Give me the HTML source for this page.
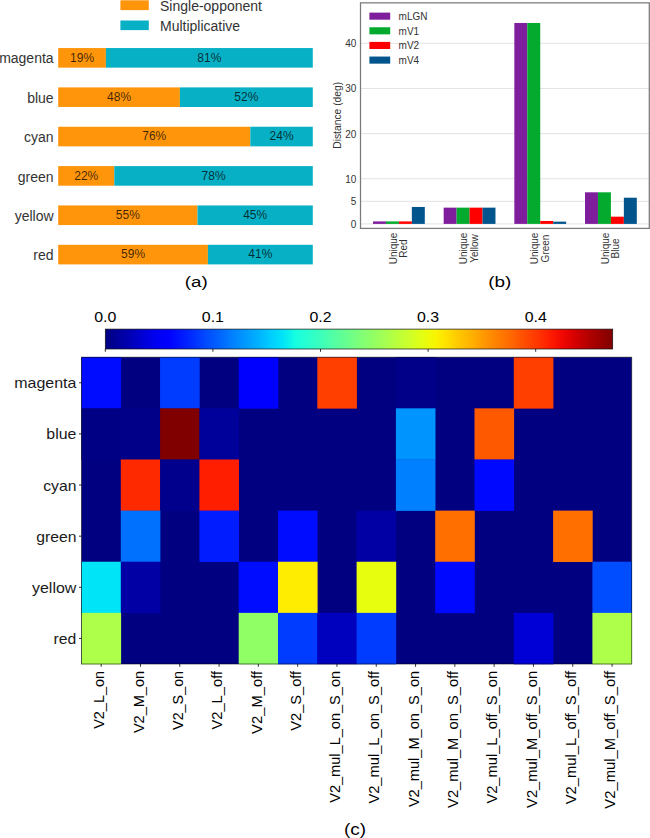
<!DOCTYPE html>
<html><head><meta charset="utf-8"><style>
html,body{margin:0;padding:0;background:#fff;}
body{width:650px;height:838px;overflow:hidden;}
svg{display:block;}
text{font-family:"Liberation Sans",sans-serif;}
</style></head><body>
<svg width="650" height="838" viewBox="0 0 650 838" font-family="&quot;Liberation Sans&quot;, sans-serif">
<rect x="0" y="0" width="650" height="838" fill="#fff"/>
<rect x="120.4" y="0.3" width="28.4" height="9.8" fill="#ff950b"/>
<rect x="120.4" y="20.5" width="28.4" height="9.6" fill="#08b0c5"/>
<text x="160.0" y="10.7" font-size="14" fill="#333333">Single-opponent</text>
<text x="160.0" y="30.5" font-size="14" fill="#333333">Multiplicative</text>
<rect x="58.2" y="48.05" width="47.70" height="19.6" fill="#ff950b"/>
<rect x="105.90" y="48.05" width="206.90" height="19.6" fill="#08b0c5"/>
<text x="53.6" y="63.45" font-size="14" fill="#333333" text-anchor="end">magenta</text>
<text x="82.05" y="61.70" font-size="12" fill="#000" fill-opacity="0.76" text-anchor="middle">19%</text>
<text x="209.35" y="61.70" font-size="12" fill="#000" fill-opacity="0.76" text-anchor="middle">81%</text>
<rect x="58.2" y="87.40" width="121.70" height="19.6" fill="#ff950b"/>
<rect x="179.90" y="87.40" width="132.90" height="19.6" fill="#08b0c5"/>
<text x="53.6" y="102.80" font-size="14" fill="#333333" text-anchor="end">blue</text>
<text x="119.05" y="101.05" font-size="12" fill="#000" fill-opacity="0.76" text-anchor="middle">48%</text>
<text x="246.35" y="101.05" font-size="12" fill="#000" fill-opacity="0.76" text-anchor="middle">52%</text>
<rect x="58.2" y="126.75" width="192.10" height="19.6" fill="#ff950b"/>
<rect x="250.30" y="126.75" width="62.50" height="19.6" fill="#08b0c5"/>
<text x="53.6" y="142.15" font-size="14" fill="#333333" text-anchor="end">cyan</text>
<text x="154.25" y="140.40" font-size="12" fill="#000" fill-opacity="0.76" text-anchor="middle">76%</text>
<text x="281.55" y="140.40" font-size="12" fill="#000" fill-opacity="0.76" text-anchor="middle">24%</text>
<rect x="58.2" y="166.10" width="56.10" height="19.6" fill="#ff950b"/>
<rect x="114.30" y="166.10" width="198.50" height="19.6" fill="#08b0c5"/>
<text x="53.6" y="181.50" font-size="14" fill="#333333" text-anchor="end">green</text>
<text x="86.25" y="179.75" font-size="12" fill="#000" fill-opacity="0.76" text-anchor="middle">22%</text>
<text x="213.55" y="179.75" font-size="12" fill="#000" fill-opacity="0.76" text-anchor="middle">78%</text>
<rect x="58.2" y="205.45" width="139.30" height="19.6" fill="#ff950b"/>
<rect x="197.50" y="205.45" width="115.30" height="19.6" fill="#08b0c5"/>
<text x="53.6" y="220.85" font-size="14" fill="#333333" text-anchor="end">yellow</text>
<text x="127.85" y="219.10" font-size="12" fill="#000" fill-opacity="0.76" text-anchor="middle">55%</text>
<text x="255.15" y="219.10" font-size="12" fill="#000" fill-opacity="0.76" text-anchor="middle">45%</text>
<rect x="58.2" y="244.80" width="149.70" height="19.6" fill="#ff950b"/>
<rect x="207.90" y="244.80" width="104.90" height="19.6" fill="#08b0c5"/>
<text x="53.6" y="260.20" font-size="14" fill="#333333" text-anchor="end">red</text>
<text x="133.05" y="258.45" font-size="12" fill="#000" fill-opacity="0.76" text-anchor="middle">59%</text>
<text x="260.35" y="258.45" font-size="12" fill="#000" fill-opacity="0.76" text-anchor="middle">41%</text>
<text x="196.30" y="286.60" font-size="15.5" fill="#000" text-anchor="middle" textLength="22.90" lengthAdjust="spacingAndGlyphs">(a)</text>
<line x1="360.5" x2="649.3" y1="223.90" y2="223.90" stroke="#e3e3e3" stroke-width="1"/>
<text x="356.4" y="227.80" font-size="10" fill="#333333" text-anchor="end">0</text>
<line x1="360.5" x2="649.3" y1="201.33" y2="201.33" stroke="#e3e3e3" stroke-width="1"/>
<text x="356.4" y="205.23" font-size="10" fill="#333333" text-anchor="end">5</text>
<line x1="360.5" x2="649.3" y1="178.75" y2="178.75" stroke="#e3e3e3" stroke-width="1"/>
<text x="356.4" y="182.65" font-size="10" fill="#333333" text-anchor="end">10</text>
<line x1="360.5" x2="649.3" y1="133.60" y2="133.60" stroke="#e3e3e3" stroke-width="1"/>
<text x="356.4" y="137.50" font-size="10" fill="#333333" text-anchor="end">20</text>
<line x1="360.5" x2="649.3" y1="88.45" y2="88.45" stroke="#e3e3e3" stroke-width="1"/>
<text x="356.4" y="92.35" font-size="10" fill="#333333" text-anchor="end">30</text>
<line x1="360.5" x2="649.3" y1="43.30" y2="43.30" stroke="#e3e3e3" stroke-width="1"/>
<text x="356.4" y="47.20" font-size="10" fill="#333333" text-anchor="end">40</text>
<rect x="373.00" y="221.42" width="12.95" height="2.48" fill="#7e1e9c"/>
<rect x="385.95" y="221.42" width="12.95" height="2.48" fill="#04aa2e"/>
<rect x="398.90" y="221.42" width="12.95" height="2.48" fill="#ff0000"/>
<rect x="411.85" y="206.97" width="12.95" height="16.93" fill="#02558c"/>
<text transform="translate(396.50,248.5) rotate(-90)" font-size="10" fill="#333333" text-anchor="middle">Unique</text>
<text transform="translate(407.30,248.5) rotate(-90)" font-size="10" fill="#333333" text-anchor="middle">Red</text>
<rect x="443.67" y="207.65" width="12.95" height="16.25" fill="#7e1e9c"/>
<rect x="456.62" y="207.65" width="12.95" height="16.25" fill="#04aa2e"/>
<rect x="469.57" y="207.65" width="12.95" height="16.25" fill="#ff0000"/>
<rect x="482.52" y="207.65" width="12.95" height="16.25" fill="#02558c"/>
<text transform="translate(467.17,248.5) rotate(-90)" font-size="10" fill="#333333" text-anchor="middle">Unique</text>
<text transform="translate(477.97,248.5) rotate(-90)" font-size="10" fill="#333333" text-anchor="middle">Yellow</text>
<rect x="514.34" y="22.98" width="12.95" height="200.92" fill="#7e1e9c"/>
<rect x="527.29" y="22.98" width="12.95" height="200.92" fill="#04aa2e"/>
<rect x="540.24" y="220.97" width="12.95" height="2.93" fill="#ff0000"/>
<rect x="553.19" y="221.64" width="12.95" height="2.26" fill="#02558c"/>
<text transform="translate(537.84,248.5) rotate(-90)" font-size="10" fill="#333333" text-anchor="middle">Unique</text>
<text transform="translate(548.64,248.5) rotate(-90)" font-size="10" fill="#333333" text-anchor="middle">Green</text>
<rect x="585.01" y="192.30" width="12.95" height="31.60" fill="#7e1e9c"/>
<rect x="597.96" y="192.30" width="12.95" height="31.60" fill="#04aa2e"/>
<rect x="610.91" y="216.68" width="12.95" height="7.22" fill="#ff0000"/>
<rect x="623.86" y="197.71" width="12.95" height="26.19" fill="#02558c"/>
<text transform="translate(608.51,248.5) rotate(-90)" font-size="10" fill="#333333" text-anchor="middle">Unique</text>
<text transform="translate(619.31,248.5) rotate(-90)" font-size="10" fill="#333333" text-anchor="middle">Blue</text>
<rect x="360.5" y="2.85" width="288.80" height="225.55" fill="none" stroke="#7a7a7a" stroke-width="1.25"/>
<rect x="369.4" y="12.60" width="20.8" height="7.1" fill="#7e1e9c"/>
<text x="398.6" y="19.90" font-size="10" fill="#333333">mLGN</text>
<rect x="369.4" y="27.25" width="20.8" height="7.1" fill="#04aa2e"/>
<text x="398.6" y="34.55" font-size="10" fill="#333333">mV1</text>
<rect x="369.4" y="41.90" width="20.8" height="7.1" fill="#ff0000"/>
<text x="398.6" y="49.20" font-size="10" fill="#333333">mV2</text>
<rect x="369.4" y="56.55" width="20.8" height="7.1" fill="#02558c"/>
<text x="398.6" y="63.85" font-size="10" fill="#333333">mV4</text>
<text transform="translate(340.9,115.3) rotate(-90)" font-size="10.3" fill="#333333" text-anchor="middle">Distance (deg)</text>
<text x="499.75" y="287.40" font-size="15.5" fill="#000" text-anchor="middle" textLength="23.10" lengthAdjust="spacingAndGlyphs">(b)</text>
<defs><linearGradient id="jet" x1="0" x2="1" y1="0" y2="0"><stop offset="0.0000" stop-color="#000080"/><stop offset="0.0250" stop-color="#00009b"/><stop offset="0.0500" stop-color="#0000b6"/><stop offset="0.0750" stop-color="#0000d6"/><stop offset="0.1000" stop-color="#0000f1"/><stop offset="0.1250" stop-color="#0000ff"/><stop offset="0.1500" stop-color="#0018ff"/><stop offset="0.1750" stop-color="#0030ff"/><stop offset="0.2000" stop-color="#004cff"/><stop offset="0.2250" stop-color="#0064ff"/><stop offset="0.2500" stop-color="#0080ff"/><stop offset="0.2750" stop-color="#0098ff"/><stop offset="0.3000" stop-color="#00b0ff"/><stop offset="0.3250" stop-color="#00ccff"/><stop offset="0.3500" stop-color="#00e4f8"/><stop offset="0.3750" stop-color="#16ffe1"/><stop offset="0.4000" stop-color="#29ffce"/><stop offset="0.4250" stop-color="#3cffba"/><stop offset="0.4500" stop-color="#53ffa4"/><stop offset="0.4750" stop-color="#66ff90"/><stop offset="0.5000" stop-color="#7dff7a"/><stop offset="0.5250" stop-color="#90ff66"/><stop offset="0.5500" stop-color="#a4ff53"/><stop offset="0.5750" stop-color="#baff3c"/><stop offset="0.6000" stop-color="#ceff29"/><stop offset="0.6250" stop-color="#e4ff13"/><stop offset="0.6500" stop-color="#f8f500"/><stop offset="0.6750" stop-color="#ffde00"/><stop offset="0.7000" stop-color="#ffc400"/><stop offset="0.7250" stop-color="#ffae00"/><stop offset="0.7500" stop-color="#ff9400"/><stop offset="0.7750" stop-color="#ff7e00"/><stop offset="0.8000" stop-color="#ff6800"/><stop offset="0.8250" stop-color="#ff4e00"/><stop offset="0.8500" stop-color="#ff3800"/><stop offset="0.8750" stop-color="#ff1e00"/><stop offset="0.9000" stop-color="#f10800"/><stop offset="0.9250" stop-color="#d60000"/><stop offset="0.9500" stop-color="#b60000"/><stop offset="0.9750" stop-color="#9b0000"/><stop offset="1.0000" stop-color="#800000"/></linearGradient></defs>
<rect x="105.3" y="329.1" width="507.40" height="19.90" fill="url(#jet)" stroke="#111" stroke-width="0.7"/>
<line x1="105.30" x2="105.30" y1="349.0" y2="351.8" stroke="#000" stroke-width="0.8"/>
<text x="105.30" y="321.70" font-size="13.9" fill="#000" text-anchor="middle" textLength="22.11" lengthAdjust="spacingAndGlyphs" >0.0</text>
<line x1="212.90" x2="212.90" y1="349.0" y2="351.8" stroke="#000" stroke-width="0.8"/>
<text x="212.90" y="321.70" font-size="13.9" fill="#000" text-anchor="middle" textLength="22.11" lengthAdjust="spacingAndGlyphs" >0.1</text>
<line x1="320.50" x2="320.50" y1="349.0" y2="351.8" stroke="#000" stroke-width="0.8"/>
<text x="320.50" y="321.70" font-size="13.9" fill="#000" text-anchor="middle" textLength="22.11" lengthAdjust="spacingAndGlyphs" >0.2</text>
<line x1="428.10" x2="428.10" y1="349.0" y2="351.8" stroke="#000" stroke-width="0.8"/>
<text x="428.10" y="321.70" font-size="13.9" fill="#000" text-anchor="middle" textLength="22.11" lengthAdjust="spacingAndGlyphs" >0.3</text>
<line x1="535.70" x2="535.70" y1="349.0" y2="351.8" stroke="#000" stroke-width="0.8"/>
<text x="535.70" y="321.70" font-size="13.9" fill="#000" text-anchor="middle" textLength="22.11" lengthAdjust="spacingAndGlyphs" >0.4</text>
<rect x="81.5" y="357.2" width="550.20" height="306.80" fill="#000080"/>
<rect x="81.50" y="357.20" width="39.60" height="51.43" fill="#000cff"/>
<rect x="160.10" y="357.20" width="39.60" height="51.43" fill="#003cff"/>
<rect x="238.70" y="357.20" width="39.60" height="51.43" fill="#0000ff"/>
<rect x="317.30" y="357.20" width="39.60" height="51.43" fill="#ff3f00"/>
<rect x="395.90" y="357.20" width="39.60" height="51.43" fill="#000089"/>
<rect x="513.80" y="357.20" width="39.60" height="51.43" fill="#ff3f00"/>
<rect x="81.50" y="408.33" width="39.60" height="51.43" fill="#000084"/>
<rect x="120.80" y="408.33" width="39.60" height="51.43" fill="#000089"/>
<rect x="160.10" y="408.33" width="39.60" height="51.43" fill="#800000"/>
<rect x="199.40" y="408.33" width="39.60" height="51.43" fill="#00009b"/>
<rect x="395.90" y="408.33" width="39.60" height="51.43" fill="#0094ff"/>
<rect x="474.50" y="408.33" width="39.60" height="51.43" fill="#ff5900"/>
<rect x="120.80" y="459.47" width="39.60" height="51.43" fill="#ff2900"/>
<rect x="160.10" y="459.47" width="39.60" height="51.43" fill="#00008d"/>
<rect x="199.40" y="459.47" width="39.60" height="51.43" fill="#ff1e00"/>
<rect x="395.90" y="459.47" width="39.60" height="51.43" fill="#0080ff"/>
<rect x="474.50" y="459.47" width="39.60" height="51.43" fill="#0008ff"/>
<rect x="120.80" y="510.60" width="39.60" height="51.43" fill="#0070ff"/>
<rect x="199.40" y="510.60" width="39.60" height="51.43" fill="#001cff"/>
<rect x="278.00" y="510.60" width="39.60" height="51.43" fill="#000cff"/>
<rect x="356.60" y="510.60" width="39.60" height="51.43" fill="#0000a4"/>
<rect x="435.20" y="510.60" width="39.60" height="51.43" fill="#ff6f00"/>
<rect x="553.10" y="510.60" width="39.60" height="51.43" fill="#ff6f00"/>
<rect x="81.50" y="561.73" width="39.60" height="51.43" fill="#00e4f8"/>
<rect x="120.80" y="561.73" width="39.60" height="51.43" fill="#0000a4"/>
<rect x="238.70" y="561.73" width="39.60" height="51.43" fill="#000cff"/>
<rect x="278.00" y="561.73" width="39.60" height="51.43" fill="#feed00"/>
<rect x="356.60" y="561.73" width="39.60" height="51.43" fill="#e7ff0f"/>
<rect x="435.20" y="561.73" width="39.60" height="51.43" fill="#0008ff"/>
<rect x="592.40" y="561.73" width="39.60" height="51.43" fill="#004cff"/>
<rect x="81.50" y="612.87" width="39.60" height="51.43" fill="#adff49"/>
<rect x="238.70" y="612.87" width="39.60" height="51.43" fill="#90ff66"/>
<rect x="278.00" y="612.87" width="39.60" height="51.43" fill="#003cff"/>
<rect x="317.30" y="612.87" width="39.60" height="51.43" fill="#0000bf"/>
<rect x="356.60" y="612.87" width="39.60" height="51.43" fill="#003cff"/>
<rect x="513.80" y="612.87" width="39.60" height="51.43" fill="#0000d6"/>
<rect x="592.40" y="612.87" width="39.60" height="51.43" fill="#adff49"/>
<line x1="79" x2="81.5" y1="382.77" y2="382.77" stroke="#000" stroke-width="0.8"/>
<text x="76.40" y="388.27" font-size="13.9" fill="#1a1a1a" text-anchor="end" textLength="62.21" lengthAdjust="spacingAndGlyphs" >magenta</text>
<line x1="79" x2="81.5" y1="433.90" y2="433.90" stroke="#000" stroke-width="0.8"/>
<text x="76.40" y="439.40" font-size="13.9" fill="#1a1a1a" text-anchor="end" textLength="30.05" lengthAdjust="spacingAndGlyphs" >blue</text>
<line x1="79" x2="81.5" y1="485.03" y2="485.03" stroke="#000" stroke-width="0.8"/>
<text x="76.40" y="490.53" font-size="13.9" fill="#1a1a1a" text-anchor="end" textLength="33.20" lengthAdjust="spacingAndGlyphs" >cyan</text>
<line x1="79" x2="81.5" y1="536.17" y2="536.17" stroke="#000" stroke-width="0.8"/>
<text x="76.40" y="541.67" font-size="13.9" fill="#1a1a1a" text-anchor="end" textLength="40.15" lengthAdjust="spacingAndGlyphs" >green</text>
<line x1="79" x2="81.5" y1="587.30" y2="587.30" stroke="#000" stroke-width="0.8"/>
<text x="76.40" y="592.80" font-size="13.9" fill="#1a1a1a" text-anchor="end" textLength="44.37" lengthAdjust="spacingAndGlyphs" >yellow</text>
<line x1="79" x2="81.5" y1="638.43" y2="638.43" stroke="#000" stroke-width="0.8"/>
<text x="76.40" y="643.93" font-size="13.9" fill="#1a1a1a" text-anchor="end" textLength="22.78" lengthAdjust="spacingAndGlyphs" >red</text>
<line x1="101.15" x2="101.15" y1="664.0" y2="666.8" stroke="#000" stroke-width="0.8"/>
<text transform="translate(104.35,670.9) rotate(-90)" font-size="14.05" fill="#000" text-anchor="end" textLength="57.93" lengthAdjust="spacingAndGlyphs">V2_L_on</text>
<line x1="140.45" x2="140.45" y1="664.0" y2="666.8" stroke="#000" stroke-width="0.8"/>
<text transform="translate(143.65,670.9) rotate(-90)" font-size="14.05" fill="#000" text-anchor="end" textLength="62.22" lengthAdjust="spacingAndGlyphs">V2_M_on</text>
<line x1="179.75" x2="179.75" y1="664.0" y2="666.8" stroke="#000" stroke-width="0.8"/>
<text transform="translate(182.95,670.9) rotate(-90)" font-size="14.05" fill="#000" text-anchor="end" textLength="59.02" lengthAdjust="spacingAndGlyphs">V2_S_on</text>
<line x1="219.05" x2="219.05" y1="664.0" y2="666.8" stroke="#000" stroke-width="0.8"/>
<text transform="translate(222.25,670.9) rotate(-90)" font-size="14.05" fill="#000" text-anchor="end" textLength="58.70" lengthAdjust="spacingAndGlyphs">V2_L_off</text>
<line x1="258.35" x2="258.35" y1="664.0" y2="666.8" stroke="#000" stroke-width="0.8"/>
<text transform="translate(261.55,670.9) rotate(-90)" font-size="14.05" fill="#000" text-anchor="end" textLength="63.00" lengthAdjust="spacingAndGlyphs">V2_M_off</text>
<line x1="297.65" x2="297.65" y1="664.0" y2="666.8" stroke="#000" stroke-width="0.8"/>
<text transform="translate(300.85,670.9) rotate(-90)" font-size="14.05" fill="#000" text-anchor="end" textLength="59.79" lengthAdjust="spacingAndGlyphs">V2_S_off</text>
<line x1="336.95" x2="336.95" y1="664.0" y2="666.8" stroke="#000" stroke-width="0.8"/>
<text transform="translate(340.15,670.9) rotate(-90)" font-size="14.05" fill="#000" text-anchor="end" textLength="131.92" lengthAdjust="spacingAndGlyphs">V2_mul_L_on_S_on</text>
<line x1="376.25" x2="376.25" y1="664.0" y2="666.8" stroke="#000" stroke-width="0.8"/>
<text transform="translate(379.45,670.9) rotate(-90)" font-size="14.05" fill="#000" text-anchor="end" textLength="132.69" lengthAdjust="spacingAndGlyphs">V2_mul_L_on_S_off</text>
<line x1="415.55" x2="415.55" y1="664.0" y2="666.8" stroke="#000" stroke-width="0.8"/>
<text transform="translate(418.75,670.9) rotate(-90)" font-size="14.05" fill="#000" text-anchor="end" textLength="136.21" lengthAdjust="spacingAndGlyphs">V2_mul_M_on_S_on</text>
<line x1="454.85" x2="454.85" y1="664.0" y2="666.8" stroke="#000" stroke-width="0.8"/>
<text transform="translate(458.05,670.9) rotate(-90)" font-size="14.05" fill="#000" text-anchor="end" textLength="136.99" lengthAdjust="spacingAndGlyphs">V2_mul_M_on_S_off</text>
<line x1="494.15" x2="494.15" y1="664.0" y2="666.8" stroke="#000" stroke-width="0.8"/>
<text transform="translate(497.35,670.9) rotate(-90)" font-size="14.05" fill="#000" text-anchor="end" textLength="132.69" lengthAdjust="spacingAndGlyphs">V2_mul_L_off_S_on</text>
<line x1="533.45" x2="533.45" y1="664.0" y2="666.8" stroke="#000" stroke-width="0.8"/>
<text transform="translate(536.65,670.9) rotate(-90)" font-size="14.05" fill="#000" text-anchor="end" textLength="136.99" lengthAdjust="spacingAndGlyphs">V2_mul_M_off_S_on</text>
<line x1="572.75" x2="572.75" y1="664.0" y2="666.8" stroke="#000" stroke-width="0.8"/>
<text transform="translate(575.95,670.9) rotate(-90)" font-size="14.05" fill="#000" text-anchor="end" textLength="133.47" lengthAdjust="spacingAndGlyphs">V2_mul_L_off_S_off</text>
<line x1="612.05" x2="612.05" y1="664.0" y2="666.8" stroke="#000" stroke-width="0.8"/>
<text transform="translate(615.25,670.9) rotate(-90)" font-size="14.05" fill="#000" text-anchor="end" textLength="137.76" lengthAdjust="spacingAndGlyphs">V2_mul_M_off_S_off</text>
<rect x="81.5" y="357.2" width="550.20" height="306.80" fill="none" stroke="#000" stroke-width="0.9" stroke-opacity="0.6"/>
<text x="355.05" y="834.80" font-size="16" fill="#000" text-anchor="middle" textLength="22.00" lengthAdjust="spacingAndGlyphs">(c)</text>
</svg>
</body></html>
